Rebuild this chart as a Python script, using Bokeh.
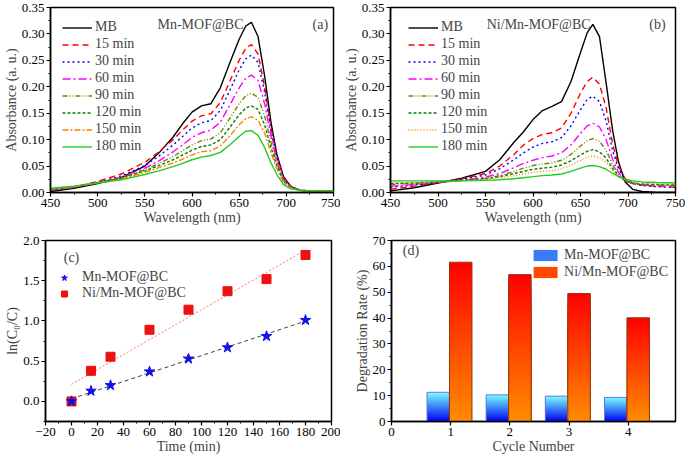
import numpy as np
from bokeh.plotting import figure
from bokeh.layouts import column, row
from bokeh.models import (Legend, LegendItem, Label, FixedTicker,
                          NumeralTickFormatter, Range1d)
from bokeh.embed import file_html
from bokeh.resources import INLINE

# ---------------- data ----------------
wavelength = [450, 475, 500, 525, 550, 565, 580, 590, 600, 610, 620, 630, 640,
              650, 657, 663, 670, 677, 684, 690, 697, 705, 715, 730, 750]
series_labels = ["MB", "15 min", "30 min", "60 min", "90 min", "120 min",
                 "150 min", "180 min"]

# panel (a) Mn-MOF@BC
a_mb = [0.002, 0.008, 0.017, 0.028, 0.050, 0.075, 0.105, 0.130, 0.152, 0.164, 0.168, 0.198, 0.245,
        0.290, 0.315, 0.322, 0.295, 0.220, 0.130, 0.072, 0.030, 0.011, 0.004, 0.002, 0.002]
a_15 = [0.004, 0.010, 0.021, 0.035, 0.057, 0.077, 0.100, 0.118, 0.135, 0.145, 0.149, 0.170, 0.210,
        0.250, 0.273, 0.280, 0.262, 0.200, 0.120, 0.068, 0.028, 0.011, 0.004, 0.003, 0.003]
a_30 = [0.004, 0.010, 0.019, 0.031, 0.051, 0.069, 0.090, 0.106, 0.122, 0.132, 0.136, 0.155, 0.193,
        0.232, 0.253, 0.260, 0.246, 0.190, 0.115, 0.065, 0.027, 0.011, 0.004, 0.003, 0.003]
a_60 = [0.005, 0.010, 0.019, 0.029, 0.046, 0.060, 0.077, 0.090, 0.104, 0.113, 0.118, 0.133, 0.165,
        0.198, 0.216, 0.222, 0.212, 0.168, 0.105, 0.060, 0.025, 0.010, 0.004, 0.003, 0.003]
a_90 = [0.005, 0.010, 0.019, 0.028, 0.043, 0.055, 0.068, 0.079, 0.090, 0.098, 0.101, 0.113, 0.140,
        0.168, 0.183, 0.188, 0.180, 0.145, 0.093, 0.055, 0.023, 0.010, 0.004, 0.003, 0.003]
a_120 = [0.006, 0.011, 0.019, 0.027, 0.041, 0.051, 0.062, 0.071, 0.080, 0.087, 0.090, 0.100, 0.123,
         0.147, 0.160, 0.164, 0.157, 0.128, 0.083, 0.050, 0.021, 0.009, 0.004, 0.003, 0.003]
a_150 = [0.007, 0.011, 0.018, 0.026, 0.038, 0.047, 0.056, 0.063, 0.071, 0.077, 0.079, 0.088, 0.107,
         0.128, 0.140, 0.143, 0.137, 0.112, 0.074, 0.045, 0.019, 0.008, 0.004, 0.003, 0.003]
a_180 = [0.008, 0.012, 0.018, 0.024, 0.034, 0.041, 0.049, 0.055, 0.062, 0.067, 0.070, 0.076, 0.090,
         0.106, 0.116, 0.117, 0.108, 0.085, 0.055, 0.034, 0.015, 0.007, 0.004, 0.003, 0.003]

# panel (b) Ni/Mn-MOF@BC
b_mb = [0.003, 0.009, 0.018, 0.027, 0.040, 0.062, 0.095, 0.115, 0.138, 0.155, 0.163, 0.172, 0.210,
        0.265, 0.302, 0.318, 0.295, 0.207, 0.115, 0.058, 0.020, 0.006, 0.002, 0.000, 0.000]
b_15 = [0.006, 0.012, 0.019, 0.026, 0.036, 0.050, 0.072, 0.090, 0.102, 0.110, 0.113, 0.122, 0.150,
        0.188, 0.210, 0.218, 0.205, 0.160, 0.090, 0.050, 0.026, 0.018, 0.014, 0.012, 0.010]
b_30 = [0.010, 0.014, 0.019, 0.025, 0.033, 0.045, 0.062, 0.075, 0.086, 0.093, 0.096, 0.104, 0.126,
        0.157, 0.176, 0.182, 0.172, 0.135, 0.078, 0.045, 0.024, 0.017, 0.013, 0.011, 0.010]
b_60 = [0.012, 0.015, 0.019, 0.023, 0.029, 0.036, 0.047, 0.055, 0.061, 0.066, 0.069, 0.075, 0.090,
        0.112, 0.126, 0.131, 0.124, 0.100, 0.062, 0.038, 0.022, 0.017, 0.014, 0.012, 0.012]
b_90 = [0.015, 0.017, 0.020, 0.023, 0.027, 0.032, 0.040, 0.046, 0.051, 0.054, 0.056, 0.061, 0.072,
        0.088, 0.098, 0.102, 0.097, 0.080, 0.052, 0.034, 0.022, 0.017, 0.015, 0.014, 0.013]
b_120 = [0.017, 0.018, 0.020, 0.023, 0.026, 0.030, 0.036, 0.040, 0.044, 0.046, 0.048, 0.052, 0.060,
         0.071, 0.078, 0.081, 0.077, 0.065, 0.045, 0.031, 0.022, 0.018, 0.016, 0.015, 0.014]
b_150 = [0.019, 0.019, 0.020, 0.022, 0.025, 0.028, 0.032, 0.035, 0.038, 0.040, 0.041, 0.045, 0.052,
         0.061, 0.067, 0.069, 0.066, 0.057, 0.041, 0.030, 0.023, 0.019, 0.017, 0.016, 0.015]
b_180 = [0.022, 0.022, 0.022, 0.022, 0.023, 0.024, 0.026, 0.028, 0.030, 0.032, 0.033, 0.035, 0.040,
         0.046, 0.050, 0.051, 0.049, 0.044, 0.036, 0.030, 0.025, 0.022, 0.020, 0.019, 0.018]

# panel (c) kinetics
time_min = [0, 15, 30, 60, 90, 120, 150, 180]
c_mn = [0.0, 0.13, 0.20, 0.37, 0.53, 0.67, 0.81, 1.01]
c_nimn = [0.0, 0.38, 0.555, 0.89, 1.14, 1.37, 1.52, 1.82]

# panel (d) cycles
cycles = [1, 2, 3, 4]
d_mn = [11.3, 10.3, 9.8, 9.3]
d_nimn = [61.6, 56.8, 49.5, 40.1]

# ticks
spec_xticks = [450, 500, 550, 600, 650, 700, 750]
spec_yticks = [0.0, 0.05, 0.10, 0.15, 0.20, 0.25, 0.30, 0.35]
c_xticks = [-20, 0, 20, 40, 60, 80, 100, 120, 140, 160, 180, 200]
c_yticks = [0.0, 0.5, 1.0, 1.5, 2.0]
d_xticks = [0, 1, 2, 3, 4]
d_yticks = [0, 10, 20, 30, 40, 50, 60, 70]

# ---------------- style ----------------
FONT = "Liberation Serif"
line_styles_a = [("#000000", "solid"), ("#FF0000", "6 4"), ("#0000FF", "2 3"),
                 ("#FF00FF", "8 3 2 3"), ("#808000", "5 2 1 2 1 2"), ("#008000", "3 2"),
                 ("#FF8000", "6 2 2 2"), ("#22CC22", "solid")]
line_styles_b = [("#000000", "solid"), ("#FF0000", "6 4"), ("#0000FF", "2 3"),
                 ("#FF00FF", "8 3 2 3"), ("#808000", "5 2 1 2 1 2"), ("#008000", "3 2"),
                 ("#FF8000", "1 2"), ("#22CC22", "solid")]


def make_fig(width, height, xr, yr, mbl, mbr, mbt, mbb):
    p = figure(width=width, height=height, x_range=Range1d(*xr), y_range=Range1d(*yr),
               output_backend="svg", toolbar_location=None,
               min_border_left=mbl, min_border_right=mbr,
               min_border_top=mbt, min_border_bottom=mbb)
    p.xgrid.visible = False
    p.ygrid.visible = False
    p.outline_line_color = "black"
    p.outline_line_width = 1.5
    p.outline_line_alpha = 1
    p.background_fill_color = "white"
    p.border_fill_color = "white"
    for ax in [p.xaxis[0], p.yaxis[0]]:
        ax.axis_line_width = 1.5
        ax.major_tick_out = 4
        ax.major_tick_in = 0
        ax.minor_tick_out = 2
        ax.minor_tick_in = 0
        ax.major_tick_line_width = 1.2
        ax.major_label_text_font = FONT
        ax.major_label_text_font_size = "13px"
        ax.major_label_text_color = "black"
        ax.axis_label_text_font = FONT
        ax.axis_label_text_font_size = "14px"
        ax.axis_label_text_font_style = "normal"
        ax.axis_label_standoff = 0
        ax.major_label_standoff = 2
    return p


def spectra_panel(width, mbl, mbr, data, styles, title, letter, title_x, letter_x, leg_x):
    p = make_fig(width, 228, (450, 750), (0, 0.35), mbl, mbr, 7, 36)
    p.xaxis.ticker = FixedTicker(ticks=spec_xticks, minor_ticks=[t + 25 for t in spec_xticks[:-1]])
    p.yaxis.ticker = FixedTicker(ticks=spec_yticks, minor_ticks=[t + 0.025 for t in spec_yticks[:-1]])
    p.yaxis.formatter = NumeralTickFormatter(format="0.00")
    p.xaxis.axis_label = "Wavelength (nm)"
    p.yaxis.axis_label = "Absorbance (a. u.)"
    items = []
    for lab, ys, (col, dash) in zip(series_labels, data, styles):
        r = p.line(wavelength, ys, line_color=col, line_dash=dash, line_width=1.4)
        items.append(LegendItem(label=lab, renderers=[r]))
    leg = Legend(items=items, location=(leg_x, 32), margin=0, padding=6,
                 glyph_width=30, glyph_height=15, label_height=15, spacing=1,
                 label_standoff=3, background_fill_alpha=0, border_line_alpha=0,
                 label_text_font=FONT, label_text_font_size="14px")
    p.add_layout(leg)
    p.add_layout(Label(x=title_x, y=0.318, text=title, text_align="center",
                       text_baseline="middle", text_font=FONT, text_font_size="14px"))
    p.add_layout(Label(x=letter_x, y=0.318, text=letter, text_align="center",
                       text_baseline="middle", text_font=FONT, text_font_size="14px"))
    return p


pa = spectra_panel(340, 47, 7, [a_mb, a_15, a_30, a_60, a_90, a_120, a_150, a_180],
                   line_styles_a, "Mn-MOF@BC", "(a)", 609, 736, 6)
pb = spectra_panel(345, 47, 10, [b_mb, b_15, b_30, b_60, b_90, b_120, b_150, b_180],
                   line_styles_b, "Ni/Mn-MOF@BC", "(b)", 606, 731, 12)

# ---------------- panel (c) ----------------
pc = make_fig(340, 228, (-20, 200), (-0.25, 2.0), 45, 9, 11, 34)
pc.xaxis.ticker = FixedTicker(ticks=c_xticks, minor_ticks=[t + 10 for t in c_xticks[:-1]])
pc.yaxis.ticker = FixedTicker(ticks=c_yticks, minor_ticks=[-0.25] + [t + 0.25 for t in c_yticks[:-1]])
pc.yaxis.formatter = NumeralTickFormatter(format="0.0")
pc.xaxis.axis_label = "Time (min)"
pc.yaxis.axis_label = "ln(C\u2080/C)"
t_arr = np.array(time_min, dtype=float)
k_mn = np.polyfit(t_arr, np.array(c_mn), 1)
k_ni = np.polyfit(t_arr, np.array(c_nimn), 1)
t_ends = [time_min[0], time_min[-1]]
pc.line(t_ends, list(np.polyval(k_ni, t_ends)), line_color="#FF7070", line_dash="2 2", line_width=1)
pc.line(t_ends, list(np.polyval(k_mn, t_ends)), line_color="#404040", line_dash="4 3", line_width=1)
r_ni = pc.scatter(time_min, c_nimn, marker="square", size=9, fill_color="#EE1111", line_color="#EE1111")
r_mn = pc.scatter(time_min, c_mn, marker="star", size=11, fill_color="#1010E8", line_color="#1010E8")
leg_c = Legend(items=[LegendItem(label="Mn-MOF@BC", renderers=[r_mn]),
                      LegendItem(label="Ni/Mn-MOF@BC", renderers=[r_ni])],
               location=(7, 118), margin=0, padding=2,
               glyph_width=20, glyph_height=15, label_height=15, spacing=0,
               label_standoff=8, background_fill_alpha=0, border_line_alpha=0,
               label_text_font=FONT, label_text_font_size="14px")
pc.add_layout(leg_c)
pc.add_layout(Label(x=0, y=1.79, text="(c)", text_align="center", text_baseline="middle",
                    text_font=FONT, text_font_size="14px"))

# ---------------- panel (d) ----------------
pd_ = make_fig(345, 228, (0, 4.8), (0, 70), 51, 10, 12, 34)
pd_.xaxis.ticker = FixedTicker(ticks=d_xticks)
pd_.yaxis.ticker = FixedTicker(ticks=d_yticks, minor_ticks=[t + 5 for t in d_yticks[:-1]])
pd_.xaxis.axis_label = "Cycle Number"
pd_.yaxis.axis_label = "Degradation Rate (%)"


def mix(c0, c1, f):
    return "#%02x%02x%02x" % tuple(int(round(a + (b - a) * f)) for a, b in zip(c0, c1))


def gradient_bars(p, centers, values, off0, off1, c_bot, c_top, edge, n=40):
    # overlapping rectangles from the base, tallest first, so no seams appear
    left, right, bottom, top, colors = [], [], [], [], []
    for k in range(n - 1, -1, -1):
        for c, v in zip(centers, values):
            left.append(c + off0)
            right.append(c + off1)
            bottom.append(0)
            top.append(v * (k + 1) / n)
            colors.append(mix(c_bot, c_top, (k + 0.5) / n))
    r = p.quad(left=left, right=right, bottom=bottom, top=top, fill_color=colors,
               line_color=None)
    p.quad(left=[c + off0 for c in centers], right=[c + off1 for c in centers],
           bottom=[0] * len(values), top=values, fill_alpha=0, line_color=edge, line_width=1)
    return r


r_bm = gradient_bars(pd_, cycles, d_mn, -0.40, -0.02, (0, 0, 240), (120, 255, 255), "#7070E0")
r_bn = gradient_bars(pd_, cycles, d_nimn, -0.02, 0.36, (255, 140, 0), (255, 0, 0), "#8a3a10")
mid = 4 * 20
leg_d = Legend(items=[LegendItem(label="Mn-MOF@BC", renderers=[r_bm], index=mid),
                      LegendItem(label="Ni/Mn-MOF@BC", renderers=[r_bn], index=mid)],
               location="top_right", margin=3, padding=4,
               glyph_width=30, glyph_height=14, label_height=15, spacing=1,
               label_standoff=4, background_fill_alpha=0, border_line_alpha=0,
               label_text_font=FONT, label_text_font_size="14px")
pd_.add_layout(leg_d)
pd_.add_layout(Label(x=0.33, y=66.2, text="(d)", text_align="center", text_baseline="middle",
                     text_font=FONT, text_font_size="14px"))

layout = column(row(pa, pb, spacing=0), row(pc, pd_, spacing=0), spacing=0)
open("out.html", "w").write(file_html(layout, INLINE))
